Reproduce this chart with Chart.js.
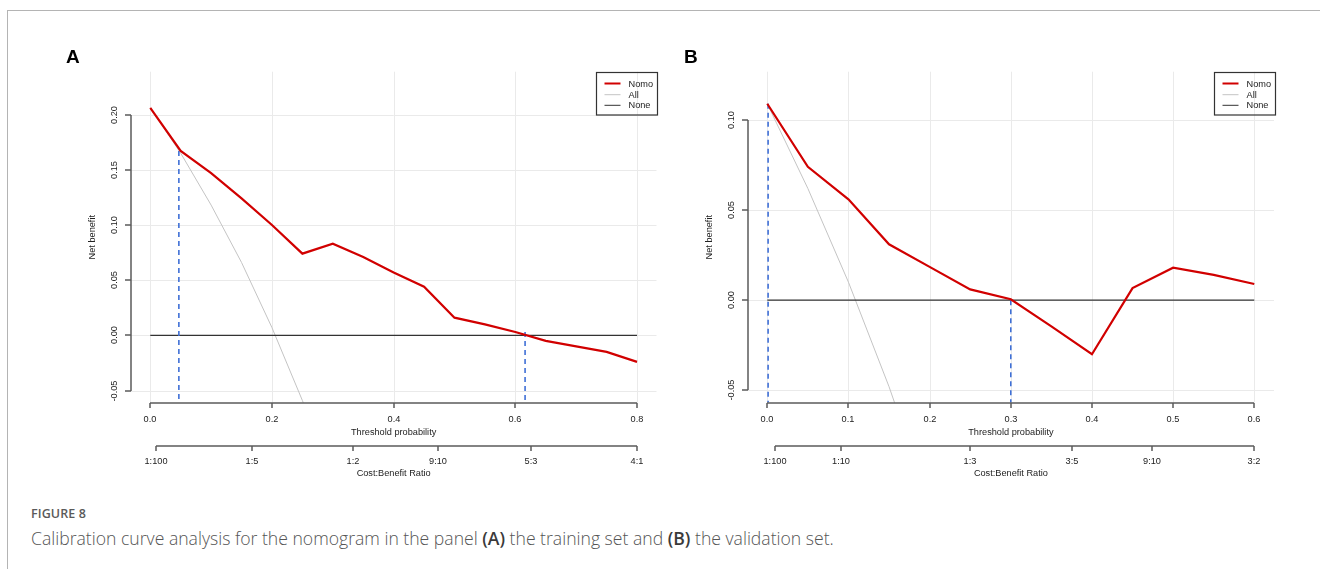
<!DOCTYPE html>
<html>
<head>
<meta charset="utf-8">
<script src="https://cdn.jsdelivr.net/npm/chart.js@4.4.1/dist/chart.umd.min.js"></script>
<style>
  html, body { margin: 0; padding: 0; background: #fff; width: 1320px; height: 569px; overflow: hidden; }
  #frame { position: absolute; left: 7px; top: 10px; width: 1400px; height: 700px;
           border-top: 1.5px solid #b4b4b4; border-left: 1.5px solid #b4b4b4; }
  canvas { position: absolute; top: 0; }
  .panel { position: absolute; font-family: "Liberation Sans", Arial, sans-serif; font-weight: bold;
           font-size: 19px; line-height: 1; color: #000; }
  #figno { position: absolute; left: 31px; top: 505px; font-family: "Open Sans", "Noto Sans", sans-serif;
           font-size: 12.5px; font-weight: 600; color: #5a5a5a; letter-spacing: 0.1px; }
  #cap { position: absolute; left: 31px; top: 526px; font-family: "Open Sans", "Noto Sans", sans-serif;
         font-size: 17.6px; font-weight: 300; color: #555; white-space: nowrap; }
  #cap b { font-weight: 600; color: #3a3a3a; }
</style>
</head>
<body>
<div id="frame"></div>
<canvas id="cA" width="660" height="480" style="left:0px"></canvas>
<canvas id="cB" width="660" height="480" style="left:660px"></canvas>
<div class="panel" style="left:66px; top:47px;">A</div>
<div class="panel" style="left:684px; top:47px;">B</div>
<div id="figno">FIGURE 8</div>
<div id="cap">Calibration curve analysis for the nomogram in the panel <b>(A)</b> the training set and <b>(B)</b> the validation set.</div>
<script>
// ---------------- data: panel A (training set) ----------------
const thresholdA = [0, 0.05, 0.10, 0.15, 0.20, 0.25, 0.30, 0.35, 0.40, 0.45, 0.50, 0.55, 0.60, 0.65, 0.70, 0.75, 0.80];
const nomoA      = [0.206, 0.167, 0.147, 0.124, 0.100, 0.074, 0.083, 0.071, 0.057, 0.044, 0.016, 0.010, 0.003, -0.005, -0.010, -0.015, -0.024];
const allThreshA = [0, 0.05, 0.10, 0.15, 0.20, 0.25, 0.26];
const allA       = [0.206, 0.165, 0.118, 0.066, 0.007, -0.059, -0.073];
const noneThreshA = [0, 0.80];
const noneA       = [0, 0];
const cutoffXA    = [0.047, 0.616];
const cutoffTopA  = [0.167, 0.003];
const xTicksA = [0, 0.2, 0.4, 0.6, 0.8];
const yTicksA = [-0.05, 0, 0.05, 0.10, 0.15, 0.20];
const costBenefitA = ["1:100", "1:5", "1:2", "9:10", "5:3", "4:1"];

// ---------------- data: panel B (validation set) ----------------
const thresholdB = [0, 0.05, 0.10, 0.15, 0.20, 0.25, 0.30, 0.35, 0.40, 0.45, 0.50, 0.55, 0.60];
const nomoB      = [0.109, 0.074, 0.056, 0.031, 0.0185, 0.006, 0.0005, -0.0145, -0.030, 0.0067, 0.018, 0.014, 0.009];
const allThreshB = [0, 0.05, 0.10, 0.15, 0.16];
const allB       = [0.109, 0.062, 0.010, -0.048, -0.061];
const noneThreshB = [0, 0.60];
const noneB       = [0, 0];
const cutoffXB    = [0.001, 0.30];
const cutoffTopB  = [0.109, 0.0];
const xTicksB = [0, 0.1, 0.2, 0.3, 0.4, 0.5, 0.6];
const yTicksB = [-0.05, 0, 0.05, 0.10];
const costBenefitB = ["1:100", "1:10", "1:3", "3:5", "9:10", "3:2"];

const seriesNames = ["Nomo", "All", "None"];
const seriesColors = ["#d10000", "#c4c4c4", "#333333"];
const cutoffColor = "#3e6fd6";

const FONT = '"Liberation Sans", Arial, Helvetica, sans-serif';

function pts(xs, ys) { return xs.map((x, i) => ({ x: x, y: ys[i] })); }

function line(ctx, x1, y1, x2, y2) {
  ctx.beginPath(); ctx.moveTo(x1, y1); ctx.lineTo(x2, y2); ctx.stroke();
}

function rdPlugin(p) {
  return {
    id: 'rstyle',
    beforeDatasetsDraw(chart) {
      const ctx = chart.ctx, a = chart.chartArea, xs = chart.scales.x, ys = chart.scales.y;
      ctx.save();
      ctx.strokeStyle = '#eaeaea';
      ctx.lineWidth = 1;
      p.xTicks.forEach(v => {
        const x = Math.round(xs.getPixelForValue(v)) + 0.5;
        line(ctx, x, a.top, x, a.bottom);
      });
      p.yTicks.forEach(v => {
        const y = Math.round(ys.getPixelForValue(v)) + 0.5;
        line(ctx, a.left, y, a.right, y);
      });
      ctx.restore();
    },
    afterDraw(chart) {
      const ctx = chart.ctx, a = chart.chartArea, xs = chart.scales.x, ys = chart.scales.y;
      ctx.save();
      ctx.setLineDash([]);
      ctx.strokeStyle = '#5a5a5a';
      ctx.fillStyle = '#222';
      ctx.lineWidth = 1.5;
      ctx.font = '9.2px ' + FONT;
      // y axis
      const ax = Math.round(a.left);
      const yTop = Math.round(ys.getPixelForValue(p.yTicks[p.yTicks.length - 1]));
      const yBot = Math.round(ys.getPixelForValue(p.yTicks[0]));
      line(ctx, ax, yTop, ax, yBot);
      p.yTicks.forEach(v => {
        const y = Math.round(ys.getPixelForValue(v));
        line(ctx, ax - 6, y, ax, y);
      });
      ctx.textAlign = 'center'; ctx.textBaseline = 'middle';
      p.yTicks.forEach(v => {
        const y = Math.round(ys.getPixelForValue(v));
        ctx.save();
        ctx.translate(a.left - 16, y);
        ctx.rotate(-Math.PI / 2);
        ctx.fillText(v.toFixed(2), 0, 0);
        ctx.restore();
      });
      ctx.save();
      ctx.translate(a.left - 38, (a.top + a.bottom) / 2);
      ctx.rotate(-Math.PI / 2);
      ctx.fillText('Net benefit', 0, 0);
      ctx.restore();
      // x axis
      const ay = Math.round(a.bottom);
      const x0 = Math.round(xs.getPixelForValue(p.xTicks[0]));
      const x1 = Math.round(xs.getPixelForValue(p.xTicks[p.xTicks.length - 1]));
      line(ctx, x0, ay, x1, ay);
      p.xTicks.forEach(v => {
        const x = Math.round(xs.getPixelForValue(v));
        line(ctx, x, ay, x, ay + 5);
        ctx.fillText(v.toFixed(1), x, a.bottom + 16.5);
      });
      const cx = (a.left + a.right) / 2;
      ctx.fillText('Threshold probability', cx, a.bottom + 29.5);
      // cost:benefit axis
      const cbY = Math.round(a.bottom + 43);
      const cbX = p.costBenefit.map(l => {
        const [c, b] = l.split(':').map(Number);
        return Math.round(xs.getPixelForValue(c / (c + b)));
      });
      line(ctx, cbX[0], cbY, cbX[cbX.length - 1], cbY);
      p.costBenefit.forEach((l, i) => {
        line(ctx, cbX[i], cbY, cbX[i], cbY + 5);
        ctx.fillText(l, cbX[i], a.bottom + 59);
      });
      ctx.fillText('Cost:Benefit Ratio', cx, a.bottom + 70.5);
      // legend
      const bw = 61, bh = 42.5;
      const bx = Math.round(a.right - bw + 0.8) + 0.5, by = Math.round(a.top) + 0.5;
      ctx.strokeStyle = '#333';
      ctx.lineWidth = 1.2;
      ctx.strokeRect(bx, by, bw, bh);
      ctx.textAlign = 'left';
      const rows = [11, 22.2, 32.8];
      seriesNames.forEach((n, i) => {
        const y = by + rows[i];
        ctx.strokeStyle = seriesColors[i];
        ctx.lineWidth = i === 0 ? 2 : 1;
        line(ctx, bx + 8, y, bx + 24, y);
        ctx.fillText(n, bx + 32, y + 0.5);
      });
      ctx.restore();
    }
  };
}

function makePanel(id, p) {
  const cutoffSets = p.cutoffX.map((x, i) => ({
    label: 'cutoff' + i,
    data: pts([x, x], [p.cutoffTop[i], p.yMin]),
    borderColor: cutoffColor, borderWidth: 1.6, borderDash: [5, 4],
    showLine: true, pointRadius: 0, order: 2
  }));
  new Chart(document.getElementById(id), {
    type: 'scatter',
    data: {
      datasets: [
        { label: seriesNames[1], data: pts(p.allX, p.all), borderColor: seriesColors[1], borderWidth: 1,
          showLine: true, pointRadius: 0, order: 4 },
        { label: seriesNames[2], data: pts(p.noneX, p.none), borderColor: seriesColors[2], borderWidth: 1.1,
          showLine: true, pointRadius: 0, order: 3 },
        ...cutoffSets,
        { label: seriesNames[0], data: pts(p.nomoX, p.nomo), borderColor: seriesColors[0], borderWidth: 2.2,
          showLine: true, pointRadius: 0, order: 1 }
      ]
    },
    options: {
      responsive: false, animation: false,
      layout: { padding: p.padding },
      plugins: { legend: { display: false }, tooltip: { enabled: false } },
      scales: {
        x: { type: 'linear', display: false, min: p.xMin, max: p.xMax },
        y: { type: 'linear', display: false, min: p.yMin, max: p.yMax }
      }
    },
    plugins: [rdPlugin(p)]
  });
}

makePanel('cA', {
  nomoX: thresholdA, nomo: nomoA, allX: allThreshA, all: allA, noneX: noneThreshA, none: noneA,
  cutoffX: cutoffXA, cutoffTop: cutoffTopA, xTicks: xTicksA, yTicks: yTicksA, costBenefit: costBenefitA,
  xMin: -0.032, xMax: 0.832, yMin: -0.061, yMax: 0.2388,
  padding: { left: 130.8, right: 3.5, top: 71.7, bottom: 77.3 }
});
makePanel('cB', {
  nomoX: thresholdB, nomo: nomoB, allX: allThreshB, all: allB, noneX: noneThreshB, none: noneB,
  cutoffX: cutoffXB, cutoffTop: cutoffTopB, xTicks: xTicksB, yTicks: yTicksB, costBenefit: costBenefitB,
  xMin: -0.024, xMax: 0.6243, yMin: -0.0569, yMax: 0.1268,
  padding: { left: 87.8, right: 46, top: 71.7, bottom: 77.3 }
});
</script>
</body>
</html>
